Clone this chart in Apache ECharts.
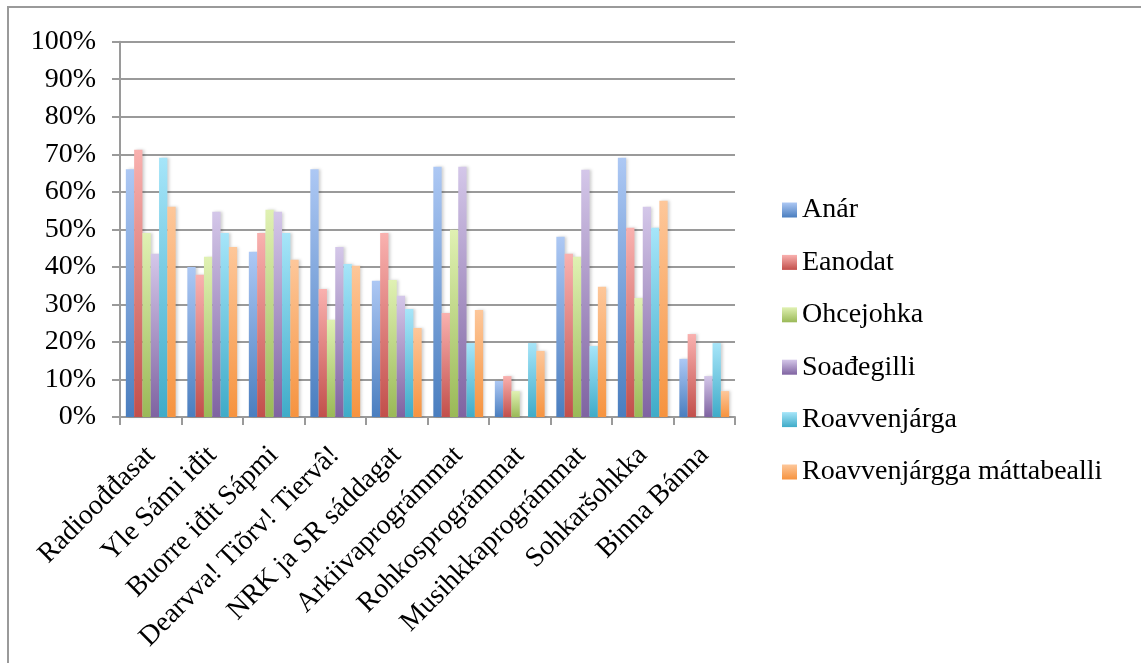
<!DOCTYPE html>
<html>
<head>
<meta charset="utf-8">
<script src="https://cdn.jsdelivr.net/npm/echarts@6/dist/echarts.min.js"></script>
<style>html,body{margin:0;padding:0;background:#fff;}#c{width:1141px;height:663px;}</style>
</head>
<body>
<div id="c"></div>
<script>
var categories = ['Radioođđasat', 'Yle Sámi iđit', 'Buorre iđit Sápmi', 'Dearvva! Tiõrv! Tiervâ!', 'NRK ja SR sáddagat', 'Arkiivaprográmmat', 'Rohkosprográmmat', 'Musihkkaprográmmat', 'Sohkaršohkka', 'Binna Bánna'];
var seriesNames = ['Anár', 'Eanodat', 'Ohcejohka', 'Soađegilli', 'Roavvenjárga', 'Roavvenjárgga máttabealli'];
var anar = [66, 40, 44, 66, 36.3, 66.7, 9.6, 48, 69.1, 15.5];
var eanodat = [71.2, 37.9, 49, 34.1, 49, 27.7, 10.9, 43.5, 50.4, 22.1];
var ohcejohka = [49, 42.7, 55.2, 25.9, 36.5, 49.9, 6.9, 42.7, 31.7, 0];
var soadegilli = [43.5, 54.7, 54.7, 45.3, 32.3, 66.7, 0, 65.9, 56, 10.9];
var roavvenjarga = [69.1, 49, 49, 40.8, 28.8, 19.7, 19.7, 18.9, 50.4, 19.7];
var roavvenjarggaMatta = [56, 45.3, 41.9, 40.3, 23.7, 28.5, 17.6, 34.7, 57.6, 6.9];
var yTicks = [0, 10, 20, 30, 40, 50, 60, 70, 80, 90, 100];

var allValues = [anar, eanodat, ohcejohka, soadegilli, roavvenjarga, roavvenjarggaMatta];
var topColors = ['#adc8f4', '#f9b1af', '#e0f1b3', '#d4c7e9', '#a6e5f9', '#fdc79a'];
var bottomColors = ['#4a7ebf', '#c24f4b', '#9ab957', '#7f63a1', '#3fabc8', '#f6933f'];
var FONT = 'Liberation Serif';
var FS = 28;

var series = seriesNames.map(function (name, i) {
  return {
    name: name,
    type: 'bar',
    data: allValues[i],
    barGap: '0%',
    barCategoryGap: '19%',
    itemStyle: {
      color: new echarts.graphic.LinearGradient(0, 0, 0, 1, [
        { offset: 0, color: topColors[i] },
        { offset: 1, color: bottomColors[i] }
      ]),
      shadowColor: 'rgba(0,0,0,0.18)',
      shadowBlur: 3,
      shadowOffsetX: 2
    }
  };
});

var chart = echarts.init(document.getElementById('c'));
chart.setOption({
  animation: false,
  backgroundColor: '#fff',
  graphic: [{
    type: 'rect',
    shape: { x: 8, y: 7, width: 1300, height: 800 },
    style: { fill: 'none', stroke: '#9a9a9a', lineWidth: 2 },
    silent: true
  }],
  grid: { left: 120, right: 406, top: 41.7, bottom: 246, containLabel: false },
  legend: {
    orient: 'vertical',
    left: 782,
    top: 195,
    padding: 0,
    itemWidth: 15,
    itemHeight: 15,
    itemGap: 22.4,
    icon: 'rect',
    data: seriesNames,
    textStyle: { fontFamily: FONT, fontSize: FS, color: '#000', lineHeight: 30 }
  },
  xAxis: {
    type: 'category',
    data: categories,
    axisLine: { lineStyle: { color: '#9a9a9a', width: 2 } },
    axisTick: { show: true, alignWithLabel: false, length: 8, lineStyle: { color: '#9a9a9a', width: 2 } },
    axisLabel: {
      interval: 0,
      rotate: 45,
      margin: 34,
      fontFamily: FONT,
      fontSize: FS,
      color: '#000'
    }
  },
  yAxis: {
    type: 'value',
    min: 0,
    max: 100,
    interval: 10,
    axisLine: { show: true, lineStyle: { color: '#9a9a9a', width: 2 } },
    axisTick: { show: true, length: 8, lineStyle: { color: '#9a9a9a', width: 2 } },
    splitLine: { lineStyle: { color: '#9a9a9a', width: 2 } },
    axisLabel: {
      margin: 24,
      fontFamily: FONT,
      fontSize: FS,
      color: '#000',
      formatter: function (v) { return yTicks.indexOf(v) >= 0 ? v + '%' : ''; }
    }
  },
  series: series
});
</script>
</body>
</html>
